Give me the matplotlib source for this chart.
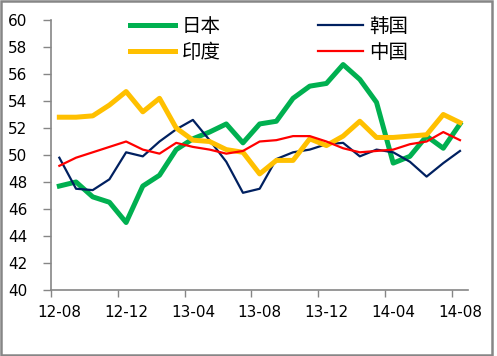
import matplotlib.pyplot as plt
from matplotlib.patches import Rectangle

months = ['12-08', '12-09', '12-10', '12-11', '12-12', '13-01', '13-02', '13-03',
          '13-04', '13-05', '13-06', '13-07', '13-08', '13-09', '13-10', '13-11',
          '13-12', '14-01', '14-02', '14-03', '14-04', '14-05', '14-06', '14-07',
          '14-08']

japan = [47.7, 48.0, 46.9, 46.5, 45.0, 47.7, 48.5, 50.4, 51.2, 51.7, 52.3, 50.9,
         52.3, 52.5, 54.2, 55.1, 55.3, 56.7, 55.6, 53.9, 49.4, 49.9, 51.4, 50.5, 52.3]
korea = [49.8, 47.5, 47.4, 48.2, 50.2, 49.9, 51.0, 51.9, 52.6, 51.1, 49.5, 47.2,
         47.5, 49.7, 50.2, 50.4, 50.8, 50.9, 49.9, 50.4, 50.2, 49.5, 48.4, 49.4, 50.3]
india = [52.8, 52.8, 52.9, 53.7, 54.7, 53.2, 54.2, 52.0, 51.1, 51.0, 50.4, 50.2,
         48.6, 49.6, 49.6, 51.2, 50.7, 51.4, 52.5, 51.3, 51.3, 51.4, 51.5, 53.0, 52.4]
china = [49.2, 49.8, 50.2, 50.6, 51.0, 50.4, 50.1, 50.9, 50.6, 50.4, 50.1, 50.3,
         51.0, 51.1, 51.4, 51.4, 51.0, 50.5, 50.2, 50.3, 50.4, 50.8, 51.0, 51.7, 51.1]

plt.rcParams['font.family'] = ['DejaVu Sans']

fig = plt.figure(figsize=(4.97, 3.56), dpi=100)
ax = fig.add_axes([0.1026, 0.1854, 0.8397, 0.7584])

x = list(range(len(months)))
l_jp, = ax.plot(x, japan, color='#00B050', lw=3.6, label='日本')
l_kr, = ax.plot(x, korea, color='#002060', lw=1.6, label='韩国')
l_in, = ax.plot(x, india, color='#FFC000', lw=3.6, label='印度')
l_cn, = ax.plot(x, china, color='#FF0000', lw=1.6, label='中国')

ax.set_xlim(-0.5, len(months) - 0.5)
ax.set_ylim(40, 60)
ax.set_yticks(range(40, 61, 2))

# tick marks between categories, labels on every 4th category
ax.set_xticks([i - 0.5 for i in range(0, len(months), 4)])
ax.set_xticklabels([])
ax.set_xticks(range(0, len(months), 4), minor=True)
ax.set_xticklabels(months[::4], minor=True)
ax.tick_params(axis='x', which='major', direction='out', length=5, width=1, color='#868686')
ax.tick_params(axis='x', which='minor', length=0, pad=11, labelsize=11)
ax.tick_params(axis='y', direction='out', length=6, width=1, color='#868686',
               pad=11, labelsize=11)

for s in ['top', 'right']:
    ax.spines[s].set_visible(False)
for s in ['left', 'bottom']:
    ax.spines[s].set_color('#868686')
    ax.spines[s].set_linewidth(1.2)

leg = ax.legend(handles=[l_jp, l_in, l_kr, l_cn], ncol=2, frameon=False,
                loc='upper left', bbox_to_anchor=(0.19, 1.015),
                prop={'family': ['Noto Sans CJK SC'], 'size': 14},
                handlelength=2.3, handletextpad=0.35, columnspacing=5.0,
                labelspacing=0.25, borderaxespad=0, borderpad=0)

fig.patches.append(Rectangle((0.003, 0.003), 0.987, 0.994, transform=fig.transFigure,
                             fill=False, edgecolor='#868686', lw=1.8))

fig.savefig('out.png', dpi=100)
